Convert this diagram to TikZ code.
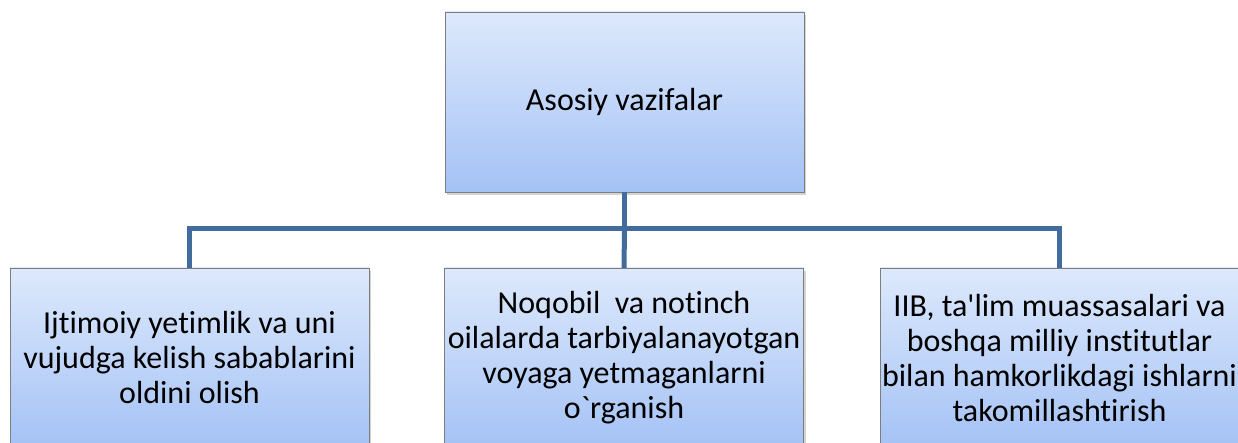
\documentclass[tikz,border=0pt]{standalone}
\usepackage{fontspec}
\setmainfont{Carlito}[Ligatures={TeXOff,NoCommon}]
\usetikzlibrary{shadows}

\definecolor{boxtop}{RGB}{221,233,252}
\definecolor{boxbottom}{RGB}{164,194,245}
\definecolor{boxedge}{RGB}{125,125,125}
\definecolor{linkblue}{RGB}{66,108,158}

\tikzset{
	task/.style={draw=boxedge, top color=boxtop, bottom color=boxbottom,
		minimum width=359pt, minimum height=180pt, inner sep=0pt, align=center,
		font=\fontsize{32}{35}\selectfont,
		drop shadow={opacity=0.35, shadow xshift=2pt, shadow yshift=-3pt}},
	link/.style={draw=linkblue, line width=5pt}
}

\begin{document}
\begin{tikzpicture}[x=1pt, y=1pt]
	\useasboundingbox (0,0) rectangle (1238,-443);
	\coordinate (bus) at (0,-229);

	\node [task] (main) at (624.5,-102) {Asosiy vazifalar};
	\node [task] (orphan) at (189.5,-358) {Ijtimoiy yetimlik va uni\\vujudga kelish sabablarini\\oldini olish};
	\node [task] (family) at (624,-358) {Noqobil~ va notinch\\oilalarda tarbiyalanayotgan\\voyaga yetmaganlarni\\o`rganish};
	\node [task] (partner) at (1059.5,-358) {IIB, ta'lim muassasalari va\\boshqa milliy institutlar\\bilan hamkorlikdagi ishlarni\\takomillashtirish};

	\draw [link] (main.south) -- (main.south |- bus) -| (orphan.north);
	\draw [link] (main.south |- bus) -| (partner.north);
	\draw [link] (main.south |- bus) -- (family.north);

\end{tikzpicture}
\end{document}
